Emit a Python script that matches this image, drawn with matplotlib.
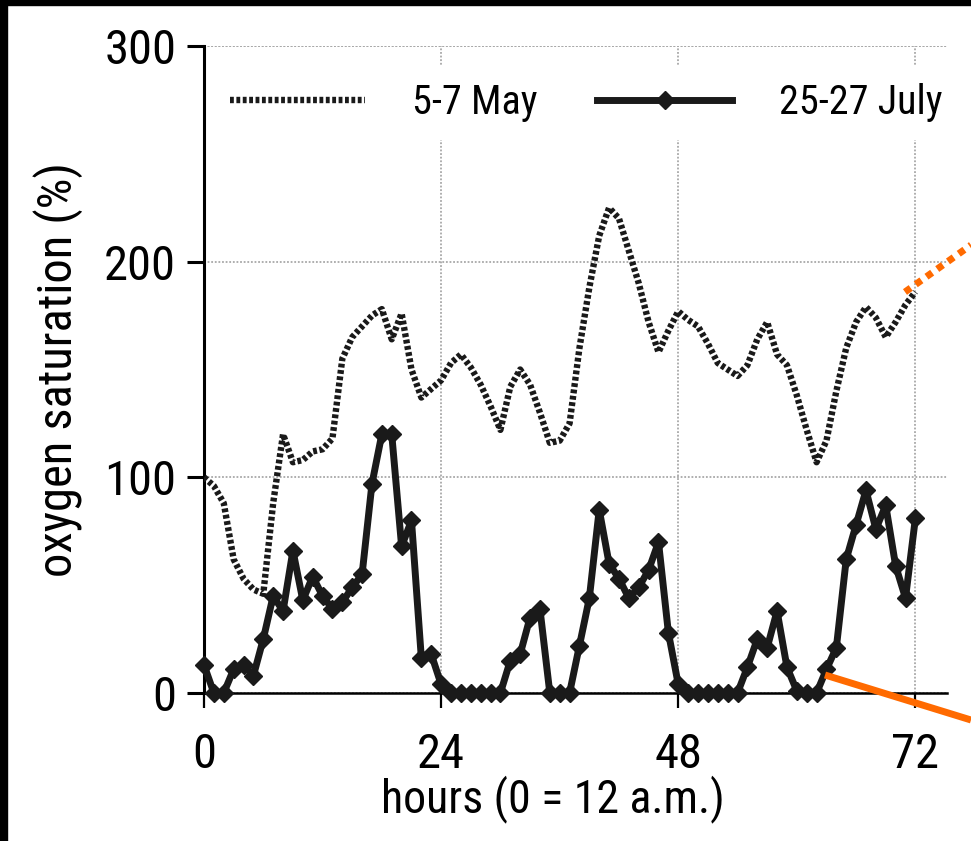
import matplotlib
matplotlib.use("Agg")
import matplotlib.pyplot as plt
from matplotlib.lines import Line2D
from matplotlib.patches import Rectangle

plt.rcParams['font.family'] = ['Roboto Condensed', 'Liberation Sans', 'DejaVu Sans']

# hours since midnight, one reading per hour
hours = list(range(0, 73))

# 5-7 May, oxygen saturation (%)
may = [100, 96, 88, 62, 53, 48, 46, 88, 120, 107,
       108, 112, 113, 118, 155, 165, 170, 175, 178, 164,
       176, 150, 137, 141, 145, 153, 157, 151, 143, 133,
       122, 142, 150, 143, 130, 116, 117, 125, 160, 188,
       212, 225, 220, 205, 190, 172, 158, 168, 177, 173,
       170, 162, 153, 150, 147, 152, 164, 172, 157, 152,
       138, 122, 107, 117, 140, 160, 172, 179, 174, 165,
       172, 180, 186]

# 25-27 July, oxygen saturation (%)
july = [13, 0, 0, 11, 13, 8, 25, 45, 38, 66,
        43, 54, 45, 39, 42, 49, 55, 97, 120, 120,
        68, 80, 16, 18, 4, 0, 0, 0, 0, 0,
        0, 15, 18, 35, 39, 0, 0, 0, 22, 44,
        85, 60, 53, 44, 49, 57, 70, 28, 4, 0,
        0, 0, 0, 0, 0, 12, 25, 21, 38, 12,
        1, 0, 0, 11, 21, 62, 78, 94, 76, 87,
        59, 44, 81]

xticks = [0, 24, 48, 72]
yticks = [0, 100, 200, 300]

fig = plt.figure(figsize=(9.71, 8.41), dpi=100)
fig.patch.set_facecolor('white')
# black scan border on the left and top
fig.add_artist(Rectangle((0, 0), 7 / 971, 1, transform=fig.transFigure, color='black', zorder=0))
fig.add_artist(Rectangle((0, 1 - 5 / 841), 1, 5 / 841, transform=fig.transFigure, color='black', zorder=0))

ax = fig.add_axes([204 / 971, 1 - 693 / 841, (947 - 204) / 971, (693 - 46) / 841])
ax.set_xlim(0, 75.2)
ax.set_ylim(0, 300)

ink = '#1a1a1a'
ax.plot(hours, may, color=ink, lw=4.6, linestyle=(0, (0.6, 0.4)),
        dash_capstyle='butt', label='5-7 May', zorder=3)
ax.plot(hours, july, color=ink, lw=5, marker='D', ms=9, mec=ink, mfc=ink,
        label='25-27 July', clip_on=False, zorder=4)

for s in ['top', 'right']:
    ax.spines[s].set_visible(False)
ax.spines['left'].set_linewidth(2.2)
ax.spines['bottom'].set_linewidth(1.8)
ax.spines['left'].set_color('black')
ax.spines['bottom'].set_color('black')
ax.spines['bottom'].set_zorder(2)

ax.set_xticks(xticks)
ax.set_yticks(yticks)
ax.tick_params(axis='y', length=12, width=2.2, pad=8, labelsize=35, direction='out')
ax.tick_params(axis='x', length=11, width=1.6, pad=17, labelsize=35, direction='out')

ax.grid(True, color='#a8a8a8', linestyle=(0, (1, 1)), lw=1.3, zorder=0)
ax.set_axisbelow(True)
ax.axhline(300, color='#a8a8a8', linestyle=(0, (1, 1)), lw=1.3, zorder=0)

ax.set_xlabel('hours (0 = 12 a.m.)', fontsize=33)
ax.xaxis.set_label_coords(0.47, -0.127)
ax.set_ylabel('oxygen saturation (%)', fontsize=35)
ax.yaxis.set_label_coords(-0.163, 0.5)

leg = ax.legend(loc='upper left', bbox_to_anchor=(0.011, 0.971), ncol=2,
                fontsize=29, frameon=True, fancybox=False, framealpha=1,
                edgecolor='none', facecolor='white', handlelength=3.35,
                handletextpad=1.15, columnspacing=1.5, borderaxespad=0,
                borderpad=0.45, numpoints=1)
leg.set_zorder(5)

# orange annotation strokes over the scan
orange = '#ff6a00'
fig.add_artist(Line2D([905 / 971, 1.0], [1 - 292 / 841, 1 - 245 / 841], transform=fig.transFigure,
                      color=orange, lw=5, linestyle=(0, (1.0, 0.9)), zorder=10))
fig.add_artist(Line2D([825 / 971, 1.0], [1 - 675 / 841, 1 - 720 / 841], transform=fig.transFigure,
                      color=orange, lw=5, solid_capstyle='butt', zorder=10))

fig.savefig('out.png', dpi=100, facecolor=fig.get_facecolor())
